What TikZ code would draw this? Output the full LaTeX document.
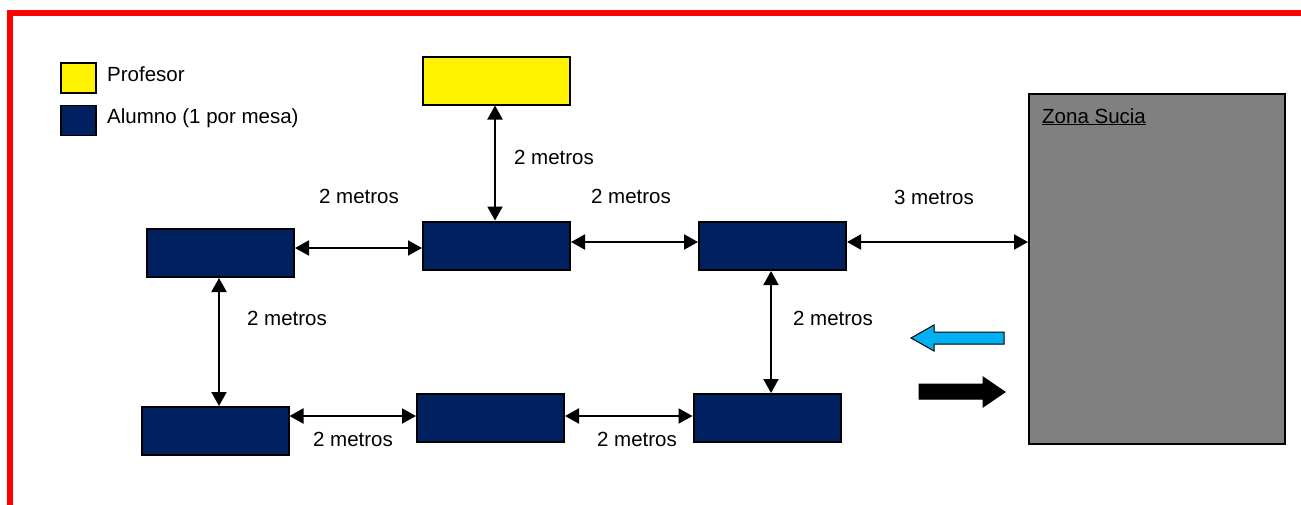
\documentclass[tikz,border=0pt]{standalone}
\usepackage{fontspec}
\setmainfont{Liberation Sans}
\usetikzlibrary{arrows.meta}
\definecolor{navy}{RGB}{0,32,96}
\definecolor{zgrey}{RGB}{128,128,128}
\definecolor{cyanarrow}{RGB}{0,176,240}
\begin{document}
\begin{tikzpicture}[x=1pt,y=-1pt,
  desk/.style={draw=black,line width=2pt,fill=navy,minimum width=147pt,minimum height=48pt,inner sep=0pt},
  prof/.style={desk,fill=yellow},
  legbox/.style={draw=black,line width=1.5pt,inner sep=0pt,minimum width=35pt,minimum height=30pt},
  lbl/.style={font=\fontsize{20.5}{24}\selectfont,inner sep=0pt},
  dbl/.style={line width=2pt,{Triangle[length=14pt,width=15pt]}-{Triangle[length=14pt,width=15pt]}}
]
\useasboundingbox (0,0) rectangle (1301,504);
% red frame
\draw[red,line width=6pt,line join=miter] (9.7,520) -- (9.7,12.8) -- (1320,12.8);

% legend
\node[legbox,fill=yellow] (lp) at (78.5,78) {};
\node[legbox,fill=navy] (la) at (78.5,120.5) {};
\node[lbl,anchor=base west] (lpt) at (107,81) {Profesor};
\node[lbl,anchor=base west] (lat) at (107,123) {Alumno (1 por mesa)};

% desks
\node[prof] (P) at (496.5,80.5) {};
\node[desk] (B1) at (220.5,253) {};
\node[desk] (B2) at (496.5,245.5) {};
\node[desk] (B3) at (772.5,246) {};
\node[desk] (B4) at (215,431) {};
\node[desk] (B5) at (490.5,417.5) {};
\node[desk] (B6) at (767,418) {};

% dirty zone
\node[draw=black,line width=2pt,fill=zgrey,minimum width=256pt,minimum height=350pt,inner sep=0pt] (Z) at (1157,269) {};
\node[lbl,anchor=base west] (zt) at (1042,123) {\underline{Zona Sucia}};

% connectors
\draw[dbl] (P.south -| 495,0) -- (B2.north -| 495,0);
\draw[dbl] (B1.east |- 0,248) -- (B2.west |- 0,248);
\draw[dbl] (B2.east |- 0,242) -- (B3.west |- 0,242);
\draw[dbl] (B3.east |- 0,242) -- (Z.west |- 0,242);
\draw[dbl] (B1.south -| 219,0) -- (B4.north -| 219,0);
\draw[dbl] (B3.south -| 771,0) -- (B6.north -| 771,0);
\draw[dbl] (B4.east |- 0,416) -- (B5.west |- 0,416);
\draw[dbl] (B5.east |- 0,416) -- (B6.west |- 0,416);

% labels
\node[lbl] (t1) at (359,196) {2 metros};
\node[lbl] (t2) at (554,157) {2 metros};
\node[lbl] (t3) at (631,196) {2 metros};
\node[lbl] (t4) at (934,197) {3 metros};
\node[lbl] (t5) at (287,318) {2 metros};
\node[lbl] (t6) at (833,318) {2 metros};
\node[lbl] (t7) at (353,439) {2 metros};
\node[lbl] (t8) at (637,439) {2 metros};

% block arrows
\draw[fill=cyanarrow,draw=black,line width=1pt,line join=miter]
  (1004,332) -- (934,332) -- (934,325) -- (911,338) -- (934,351) -- (934,344) -- (1004,344) -- cycle;
\draw[fill=black,draw=black,line width=1pt,line join=miter]
  (919,384) -- (983,384) -- (983,377) -- (1005,392) -- (983,407) -- (983,399) -- (919,399) -- cycle;
\end{tikzpicture}
\end{document}
